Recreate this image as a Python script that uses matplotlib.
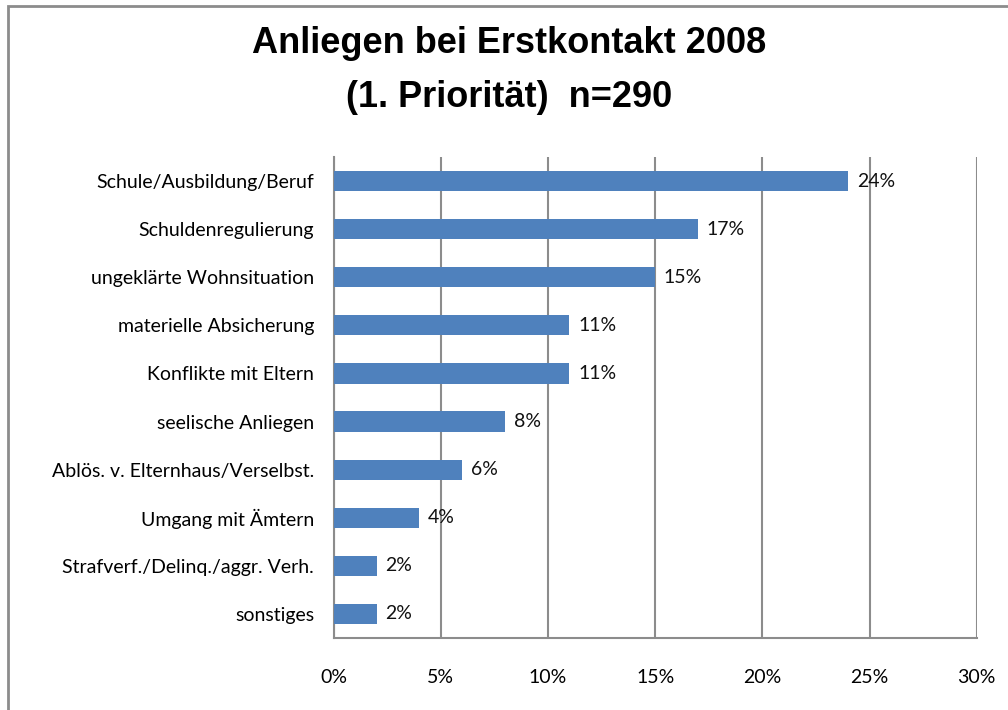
import matplotlib.pyplot as plt
from matplotlib.patches import Rectangle

# Daten
kategorien = ["Schule/Ausbildung/Beruf", "Schuldenregulierung", "ungeklärte Wohnsituation",
              "materielle Absicherung", "Konflikte mit Eltern", "seelische Anliegen",
              "Ablös. v. Elternhaus/Verselbst.", "Umgang mit Ämtern",
              "Strafverf./Delinq./aggr. Verh.", "sonstiges"]
anteile = [24, 17, 15, 11, 11, 8, 6, 4, 2, 2]
x_ticks = [0, 5, 10, 15, 20, 25, 30]
titel = "Anliegen bei Erstkontakt 2008\n(1. Priorität)  n=290"

plt.rcParams['font.family'] = ['Lato', 'DejaVu Sans']

fig = plt.figure(figsize=(10.08, 7.1), dpi=100)
ax = fig.add_axes([0.331, 0.1014, 0.638, 0.6775])

pos = list(range(len(kategorien)))[::-1]
ax.barh(pos, anteile, height=0.42, color="#4F81BD", zorder=3)

for p, v in zip(pos, anteile):
    ax.text(v + 0.4, p, f"{v}%", va="center", ha="left", fontsize=14, color="#111111", zorder=4)

ax.set_xlim(0, 30)
ax.set_ylim(-0.5, len(kategorien) - 0.5)
ax.set_xticks(x_ticks)
ax.set_xticklabels([f"{t}%" for t in x_ticks], fontsize=14)
ax.set_yticks(pos)
ax.set_yticklabels(kategorien, fontsize=14)
ax.tick_params(axis="both", length=0)
ax.tick_params(axis="x", pad=22)
ax.tick_params(axis="y", pad=14)

ax.grid(axis="x", color="#8c8c8c", linewidth=1.5, zorder=0)
for s in ["top", "right"]:
    ax.spines[s].set_visible(False)
for s in ["left", "bottom"]:
    ax.spines[s].set_color("#8c8c8c")
    ax.spines[s].set_linewidth(1.5)

fig.text(0.505, 0.901, titel, ha="center", va="center", fontsize=26, fontweight="bold",
         family=['Liberation Sans'], linespacing=1.72)

# Rahmen (nur oben und links sichtbar)
fig.patches.append(Rectangle((0.0075, -0.5), 1.5, 1.4915, transform=fig.transFigure,
                             fill=False, edgecolor="#8c8c8c", linewidth=2))

fig.savefig("out.png", dpi=100)
